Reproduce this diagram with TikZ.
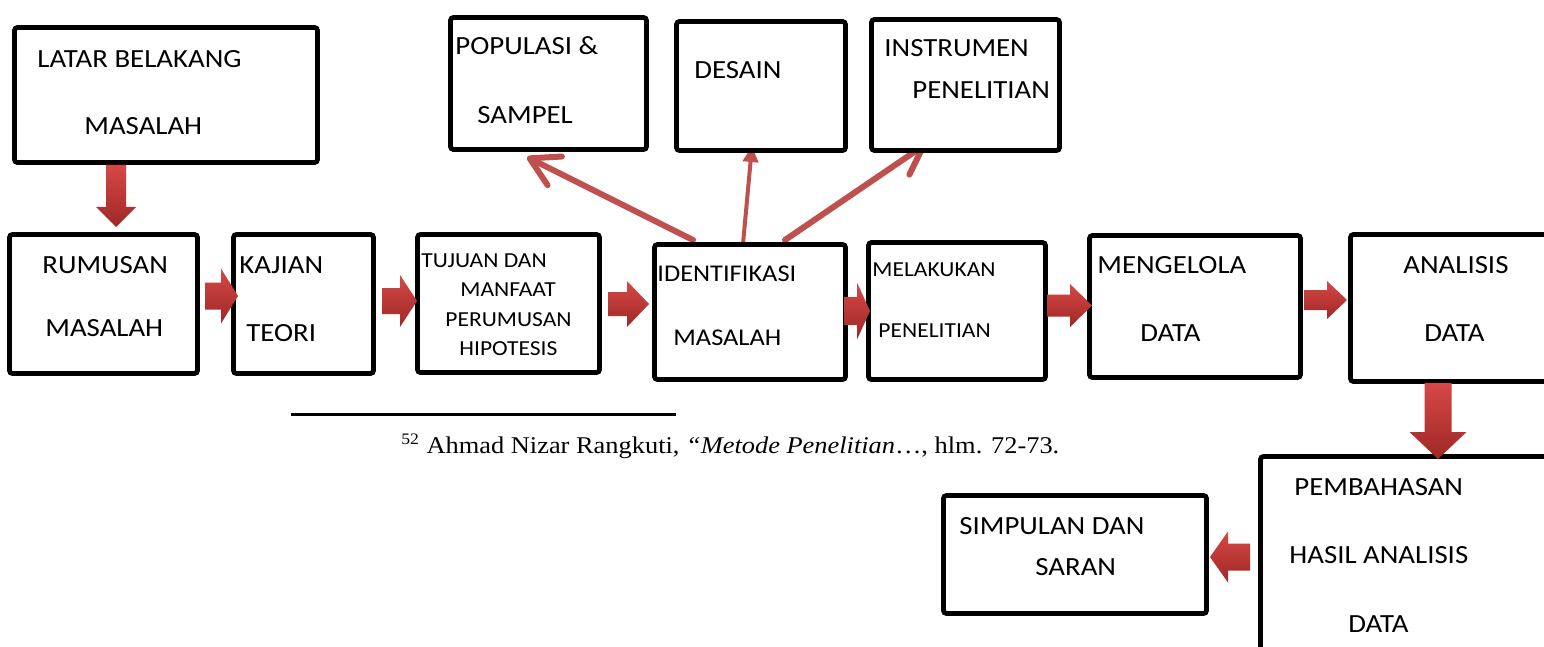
\documentclass[tikz,border=0pt]{standalone}
\usepackage{fontspec}
\setmainfont[FakeStretch=1.1]{Carlito}
\newfontfamily\fnfont[FakeStretch=1.1]{Liberation Serif}
\usetikzlibrary{fit,arrows.meta,calc}
\definecolor{accred}{HTML}{C0504D}
\definecolor{blktop}{RGB}{214,72,70}
\definecolor{blkbot}{RGB}{158,40,38}
\tikzset{
  box/.style={draw=black, line width=2.4pt, rounded corners=1.5pt, fill=white, inner sep=0pt},
  lg/.style={font=\fontsize{13.1}{15}\selectfont, anchor=base west, inner sep=0pt},
  md/.style={font=\fontsize{12}{14}\selectfont, anchor=base west, inner sep=0pt},
  sm/.style={font=\fontsize{10.7}{13}\selectfont, anchor=base west, inner sep=0pt},
  fn/.style={font=\fnfont\fontsize{12}{14}\selectfont, anchor=base west, inner sep=0pt},
  blk/.style={top color=blktop, bottom color=blkbot, draw=none},
  thinarr/.style={draw=accred, line width=3pt, line cap=round,
    -{Straight Barb[length=14pt,width=16pt,line cap=round,line join=round]}},
  midarr/.style={draw=accred, line width=2pt, -{Triangle[length=8pt,width=7.5pt]}},
}
% horizontal block arrow: x1 (tail), x2 (head base), x3 (tip), y, shaft half, head half
\newcommand{\blkR}[6]{\path[blk] (#1,{#4-#5}) -- (#2,{#4-#5}) -- (#2,{#4-#6}) -- (#3,#4) -- (#2,{#4+#6}) -- (#2,{#4+#5}) -- (#1,{#4+#5}) -- cycle;}
% vertical block arrow: xc, y1 (tail), y2 (head base), y3 (tip), shaft half, head half
\newcommand{\blkD}[6]{\path[blk] ({#1-#5},#2) -- ({#1-#5},#3) -- ({#1-#6},#3) -- (#1,#4) -- ({#1+#6},#3) -- ({#1+#5},#3) -- ({#1+#5},#2) -- cycle;}
\begin{document}
\begin{tikzpicture}[x=0.5pt,y=-0.5pt]
\fill[white] (0,0) rectangle (1544,647);
\useasboundingbox (0,0) rectangle (1544,647);

% thin red arrows from IDENTIFIKASI
\coordinate (s1) at (693,240); \coordinate (e1) at (527,157);
\coordinate (s2) at (743,244); \coordinate (e2) at (752,146);
\coordinate (s3) at (785,240); \coordinate (e3) at (926,144);
\draw[thinarr] (s1) -- (e1);
\draw[midarr] (s2) -- (e2);
\draw[thinarr] (s3) -- (e3);

% boxes
\node[box, fit={(14.5,27.5) (317.5,162.5)}] (latar) {};
\node[box, fit={(9.5,234.5) (197.5,373.5)}] (rumusan) {};
\node[box, fit={(233.5,234.5) (373.5,373.5)}] (kajian) {};
\node[box, fit={(417.5,234.5) (599.5,372.5)}] (tujuan) {};
\node[box, fit={(654.5,244.5) (845.5,379.5)}] (ident) {};
\node[box, fit={(868.5,242.5) (1045.5,379.5)}] (melak) {};
\node[box, fit={(1089.5,235.5) (1300.5,377.5)}] (mengel) {};
\node[box, fit={(1350.5,234.5) (1570,381.5)}] (analisis) {};
\node[box, fit={(450.5,17.5) (646.5,149.5)}] (pop) {};
\node[box, fit={(676.5,21.5) (845.5,150.5)}] (desain) {};
\node[box, fit={(871.5,19.5) (1059.5,150.5)}] (instr) {};
\node[box, fit={(1260.5,456.5) (1570,680)}] (pemb) {};
\node[box, fit={(943.5,495.5) (1206.5,613.5)}] (simp) {};

% texts
\node[lg] (latar1) at (37,68) {LATAR BELAKANG};
\node[lg] (latar2) at (84,135) {MASALAH};
\node[lg] (rum1) at (42,273) {RUMUSAN};
\node[lg] (rum2) at (45,336) {MASALAH};
\node[lg] (kaj1) at (239,273) {KAJIAN};
\node[lg] (kaj2) at (246,341) {TEORI};
\node[sm] (tuj1) at (421,268) {TUJUAN DAN};
\node[sm] (tuj2) at (460,297) {MANFAAT};
\node[sm] (tuj3) at (445,326) {PERUMUSAN};
\node[sm] (tuj4) at (459,355) {HIPOTESIS};
\node[md] (id1) at (657,281) {IDENTIFIKASI};
\node[md] (id2) at (673,345) {MASALAH};
\node[sm] (mel1) at (872,277) {MELAKUKAN};
\node[sm] (mel2) at (878,337) {PENELITIAN};
\node[lg] (men1) at (1097,273) {MENGELOLA};
\node[lg] (men2) at (1140,341) {DATA};
\node[lg] (ana1) at (1403,273) {ANALISIS};
\node[lg] (ana2) at (1424,341) {DATA};
\node[lg] (pop1) at (455,55) {POPULASI \&};
\node[lg] (pop2) at (477,124) {SAMPEL};
\node[lg] (des1) at (694,79) {DESAIN};
\node[lg] (ins1) at (884,57) {INSTRUMEN};
\node[lg] (ins2) at (912,99) {PENELITIAN};
\node[lg] (pem1) at (1294,495) {PEMBAHASAN};
\node[lg] (pem2) at (1289,563) {HASIL ANALISIS};
\node[lg] (pem3) at (1348,632) {DATA};
\node[lg] (sim1) at (959,534) {SIMPULAN DAN};
\node[lg] (sim2) at (1035,575) {SARAN};

% block arrows
\blkD{116}{165}{207}{227}{10}{20}
\blkR{205}{221}{238}{296}{13.5}{27.5}
\blkR{382}{400}{417}{301}{13}{26}
\blkR{608}{627}{649}{304}{12}{23}
\blkR{844}{857}{870}{311}{14}{28.5}
\blkR{1047}{1070}{1092}{305.5}{11}{21.5}
\blkR{1304}{1327}{1347}{300}{10}{19}
\blkD{1438}{383}{432}{459}{13.5}{28.5}
\blkR{1250}{1228}{1210}{557}{13.5}{25.5}

% footnote
\coordinate (r1) at (291,414); \coordinate (r2) at (676,414);
\draw[line width=1.5pt] (r1) -- (r2);
\node[fn] (fnote) at (401,453) {\textsuperscript{52} Ahmad Nizar Rangkuti, \textit{“Metode Penelitian}…, hlm. 72-73.};
\end{tikzpicture}
\end{document}
